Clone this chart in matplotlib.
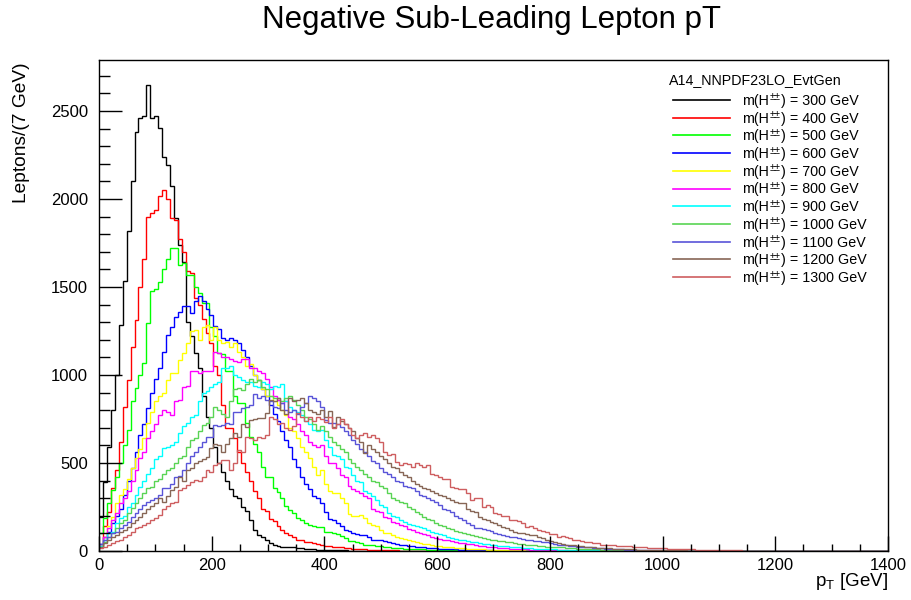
import numpy as np
import matplotlib
matplotlib.use("Agg")
import matplotlib.pyplot as plt
from matplotlib.lines import Line2D
from matplotlib.ticker import MultipleLocator

plt.rcParams['font.family'] = ['Liberation Sans', 'DejaVu Sans']
plt.rcParams['mathtext.fontset'] = 'custom'
plt.rcParams['mathtext.rm'] = 'Liberation Sans'
plt.rcParams['mathtext.it'] = 'Liberation Sans'
plt.rcParams['mathtext.bf'] = 'Liberation Sans'

# ---------------- data ----------------
masses = [300, 400, 500, 600, 700, 800, 900, 1000, 1100, 1200, 1300]
legend_header = "A14_NNPDF23LO_EvtGen"
title = "Negative Sub-Leading Lepton pT"
n_bins = 200
x_min, x_max = 0, 1400

h300 = [195, 394, 593, 801, 1000, 1284, 1534, 1818, 2102, 2382, 2462, 2470, 2650, 2462, 2470,
        2405, 2239, 2193, 2074, 1894, 1740, 1645, 1300, 1220, 1125, 1040, 880, 760, 700, 590,
        500, 450, 400, 350, 310, 300, 250, 230, 175, 120, 90, 80, 60, 45, 32, 28, 25, 25, 22,
        20, 18, 15, 12, 10, 10, 8, 7, 6, 5, 4, 4, 3, 3, 2, 2, 2, 1, 1, 1]

h400 = [30, 140, 220, 360, 460, 620, 820, 970, 1160, 1310, 1500, 1660, 1900, 1920, 1940, 2020,
        2050, 2000, 1890, 1880, 1775, 1700, 1590, 1580, 1440, 1400, 1320, 1240, 1180, 1050, 1000,
        830, 700, 700, 640, 560, 500, 450, 400, 340, 300, 240, 230, 180, 170, 140, 120, 100, 90,
        80, 65, 60, 50, 50, 45, 40, 35, 30, 28, 25, 22, 20, 18, 15, 14, 12, 10, 10, 8, 7, 6, 5,
        5, 4, 3, 3, 2, 2, 1, 1]

h500 = [100, 190, 272, 347, 422, 500, 600, 688, 850, 926, 1000, 1068, 1295, 1480, 1490, 1530,
        1600, 1660, 1722, 1722, 1625, 1635, 1570, 1570, 1500, 1465, 1410, 1410, 1270, 1220, 1125,
        1120, 1020, 1020, 880, 840, 840, 730, 650, 610, 560, 480, 420, 420, 360, 335, 300, 255,
        235, 215, 190, 175, 160, 150, 140, 135, 138, 110, 110, 105, 95, 85, 75, 55, 55, 50, 48,
        35, 35, 32, 30, 28, 25, 20, 18, 17, 15, 14, 13, 12, 11, 10, 9, 8, 7, 7, 6, 5, 5, 4, 4,
        3, 3, 2, 2, 2, 1, 1]

h600 = [40, 80, 110, 160, 200, 240, 320, 400, 470, 560, 660, 720, 810, 900, 980, 1040, 1130,
        1230, 1270, 1330, 1360, 1390, 1390, 1350, 1420, 1450, 1420, 1375, 1340, 1280, 1260, 1210,
        1200, 1210, 1200, 1180, 1140, 1100, 1050, 1000, 970, 920, 880, 830, 780, 740, 680, 630,
        590, 520, 480, 420, 380, 350, 310, 300, 270, 220, 180, 175, 160, 140, 120, 115, 100, 95,
        90, 90, 80, 65, 62, 60, 55, 50, 45, 40, 35, 35, 30, 28, 25, 22, 20, 18, 16, 15, 13, 12,
        11, 10, 9, 8, 7, 6, 6, 5, 4, 4, 3, 3, 2, 2, 2, 1, 1]

h700 = [30, 80, 140, 195, 270, 320, 350, 410, 470, 530, 580, 640, 730, 790, 850, 880, 900, 970,
        1010, 1010, 1085, 1125, 1180, 1250, 1255, 1200, 1275, 1285, 1200, 1275, 1200, 1180, 1190,
        1160, 1180, 1130, 1100, 1050, 1060, 1000, 970, 920, 880, 880, 850, 830, 800, 770, 700,
        680, 640, 590, 560, 530, 480, 430, 460, 380, 340, 330, 330, 300, 270, 210, 200, 200, 205,
        190, 160, 150, 140, 120, 100, 100, 90, 80, 75, 70, 60, 55, 50, 45, 40, 38, 35, 30, 28,
        25, 22, 20, 18, 16, 15, 13, 12, 11, 10, 9, 8, 7, 6, 6, 5, 5, 4, 4, 3, 3, 2, 2, 2, 1, 1]

h800 = [40, 80, 130, 175, 215, 270, 300, 340, 400, 460, 530, 560, 640, 680, 720, 770, 800, 790,
        770, 855, 860, 930, 940, 1020, 1020, 1010, 1020, 1025, 1025, 1130, 1125, 1100, 1100, 1090,
        1080, 1075, 1090, 1090, 1040, 1040, 1020, 1010, 980, 930, 880, 860, 840, 850, 760, 750,
        720, 680, 660, 620, 600, 590, 600, 540, 500, 500, 470, 430, 420, 370, 350, 340, 330, 310,
        300, 240, 230, 220, 195, 190, 165, 160, 145, 140, 125, 120, 110, 100, 95, 90, 80, 75, 70,
        65, 60, 55, 50, 48, 45, 40, 38, 35, 30, 28, 25, 23, 21, 19, 17, 15, 14, 12, 11, 10, 9, 8,
        7, 6, 6, 5, 5, 4, 4, 3, 3, 2, 2, 2, 1, 1, 1]

h900 = [30, 60, 100, 110, 160, 185, 200, 250, 270, 320, 365, 400, 440, 470, 520, 540, 585, 590,
        600, 620, 670, 710, 730, 760, 770, 850, 900, 910, 930, 950, 960, 1040, 1040, 1050, 1000,
        990, 970, 960, 960, 940, 930, 960, 950, 920, 940, 930, 950, 850, 820, 800, 790, 770, 740,
        720, 690, 680, 690, 630, 590, 545, 540, 520, 480, 470, 430, 400, 390, 340, 330, 310, 290,
        260, 250, 215, 200, 195, 175, 165, 155, 150, 140, 135, 130, 120, 110, 100, 95, 90, 80, 75,
        70, 65, 60, 55, 50, 50, 45, 40, 38, 35, 32, 30, 28, 26, 24, 22, 20, 18, 17, 15, 14, 13,
        12, 11, 10, 9, 8, 8, 7, 6, 6, 5, 5, 4, 4, 3, 3, 3, 2, 2, 2, 1, 1, 1]

h1000 = [25, 50, 80, 100, 130, 160, 175, 215, 245, 270, 300, 330, 360, 365, 400, 410, 440, 460,
         470, 500, 530, 540, 590, 630, 640, 680, 715, 730, 760, 820, 800, 780, 760, 850, 920, 925,
         915, 950, 980, 960, 970, 930, 920, 880, 870, 870, 850, 870, 880, 860, 830, 800, 760, 750,
         720, 690, 710, 680, 650, 620, 600, 580, 560, 520, 500, 480, 460, 440, 420, 400, 390, 370,
         360, 330, 300, 290, 280, 270, 250, 240, 220, 210, 195, 180, 175, 160, 150, 140, 130, 125,
         115, 110, 100, 95, 90, 85, 80, 75, 70, 65, 60, 55, 55, 50, 50, 45, 40, 38, 35, 35, 32, 30,
         28, 25, 25, 22, 20, 20, 18, 17, 15, 14, 12, 11, 10, 10, 9, 8, 7, 6, 6, 5, 5, 4, 4, 3, 3,
         2, 2, 2, 1, 1]

h1100 = [40, 62, 81, 100, 110, 130, 148, 167, 195, 216, 236, 260, 280, 290, 300, 320, 358, 360,
         380, 420, 425, 460, 500, 540, 560, 590, 620, 650, 650, 716, 710, 716, 730, 720, 790, 790,
         810, 820, 830, 890, 870, 880, 860, 850, 820, 810, 840, 800, 790, 800, 780, 820, 840, 880,
         870, 850, 820, 745, 730, 730, 720, 706, 680, 660, 630, 610, 580, 560, 540, 510, 500, 470,
         450, 440, 420, 400, 390, 370, 365, 360, 340, 320, 310, 300, 290, 280, 260, 240, 235, 220,
         200, 190, 175, 160, 150, 130, 130, 125, 120, 115, 100, 95, 92, 88, 82, 80, 75, 68, 62, 60,
         58, 55, 53, 50, 45, 40, 36, 34, 32, 30, 27, 25, 24, 22, 20, 18, 17, 15, 14, 12, 11, 10, 9,
         8, 8, 7, 6, 6, 5, 5, 4, 4, 3, 3, 3, 2, 2, 2, 1, 1]

h1200 = [20, 45, 62, 81, 90, 110, 120, 138, 159, 176, 195, 216, 236, 256, 272, 300, 280, 310, 347,
         365, 420, 400, 460, 470, 500, 510, 520, 536, 585, 610, 600, 564, 610, 640, 670, 650, 720,
         705, 744, 750, 755, 755, 784, 860, 850, 870, 800, 780, 870, 850, 860, 870, 840, 800, 790,
         780, 801, 760, 794, 706, 760, 740, 720, 700, 680, 640, 620, 557, 600, 580, 560, 540, 520,
         500, 480, 470, 450, 430, 420, 400, 380, 370, 358, 350, 340, 330, 320, 310, 300, 290, 280,
         270, 270, 240, 225, 220, 195, 180, 175, 165, 160, 150, 138, 130, 120, 110, 105, 100, 95,
         92, 90, 80, 74, 65, 55, 50, 45, 42, 36, 34, 32, 30, 27, 25, 22, 20, 18, 17, 16, 15, 14,
         13, 12, 11, 10, 9, 8, 8, 7, 6, 6, 5, 5, 4, 4, 4, 3, 3, 3, 2, 2, 2, 1, 1, 1]

h1300 = [15, 25, 34, 45, 55, 62, 81, 90, 110, 130, 138, 145, 159, 176, 186, 205, 236, 256, 272,
         280, 347, 360, 375, 390, 403, 400, 420, 460, 450, 490, 500, 517, 517, 460, 500, 574, 560,
         650, 640, 630, 650, 640, 660, 760, 750, 720, 730, 700, 690, 710, 784, 760, 740, 760, 740,
         760, 750, 735, 760, 700, 720, 750, 720, 700, 660, 640, 660, 670, 650, 660, 640, 620, 560,
         545, 550, 505, 490, 500, 495, 480, 500, 490, 480, 490, 440, 430, 420, 410, 410, 365, 360,
         350, 350, 330, 290, 300, 300, 250, 260, 250, 216, 210, 200, 200, 176, 176, 170, 160, 138,
         140, 130, 119, 115, 110, 95, 95, 81, 85, 78, 75, 62, 60, 55, 53, 53, 45, 45, 34, 36, 34,
         32, 30, 30, 28, 26, 25, 24, 22, 20, 19, 18, 17, 16, 15, 14, 13, 12, 11, 10, 10, 9, 8, 8,
         7, 6, 6, 5, 5, 4, 4, 3, 3, 3, 2, 2, 2, 1, 1, 1]

series = [h300, h400, h500, h600, h700, h800, h900, h1000, h1100, h1200, h1300]
colors = ['#000000', '#ff0000', '#00ff00', '#0000ff', '#ffff00', '#ff00ff', '#00ffff',
          '#59d454', '#5954d8', '#876656', '#ce5e60']

# ---------------- figure ----------------
W, H = 912, 600
fig = plt.figure(figsize=(W / 100, H / 100), dpi=100)
fig.patch.set_facecolor('white')
ax = fig.add_axes([99 / W, 49 / H, 789 / W, 491 / H])

edges = np.linspace(x_min, x_max, n_bins + 1)
for vals, col in zip(series, colors):
    counts = np.zeros(n_bins)
    counts[:len(vals)] = vals
    ax.stairs(counts, edges, color=col, lw=1.0, baseline=None)

ax.set_xlim(x_min, x_max)
ax.set_ylim(0, 2790)
ax.xaxis.set_major_locator(MultipleLocator(200))
ax.xaxis.set_minor_locator(MultipleLocator(50))
ax.yaxis.set_major_locator(MultipleLocator(500))
ax.yaxis.set_minor_locator(MultipleLocator(100))
ax.tick_params(which='both', direction='in', top=False, right=False, width=1.0, colors='black')
ax.tick_params(axis='x', which='major', length=10.8, labelsize=12, pad=5)
ax.tick_params(axis='x', which='minor', length=5.4)
ax.tick_params(axis='y', which='major', length=16.5, labelsize=12, pad=8)
ax.tick_params(axis='y', which='minor', length=8.2)
for s in ax.spines.values():
    s.set_linewidth(1.0)

fig.text(492 / W, 1 - 20 / H, title, ha='center', va='center', fontsize=22.5)
fig.text(22 / W, 1 - 62 / H, 'Leptons/(7 GeV)', rotation=90, ha='center', va='top', fontsize=13.8)
fig.text(888 / W, 1 - 581 / H, r'p$_{\mathrm{T}}$ [GeV]', ha='right', va='center', fontsize=13.5)

# legend (ROOT TLegend style, no border); superscript drawn as a chained small text
leg_fs = 10.3
fig.text(669 / W, 1 - 80 / H, legend_header, ha='left', va='center', fontsize=10.3)
for i, (m, col) in enumerate(zip(masses, colors)):
    y = 1 - (105 + 17.7 * i) / H
    fig.add_artist(Line2D([673 / W, 730 / W], [y + 5 / H, y + 5 / H], transform=fig.transFigure,
                          color=col, lw=1.2))
    t1 = fig.text(742 / W, y, 'm(H', ha='left', va='baseline', fontsize=leg_fs)
    t2 = ax.annotate('\u00b1\u00b1', xy=(1, 0), xycoords=t1, xytext=(0.3, 5.4),
                     textcoords='offset points', ha='left', va='baseline', fontsize=7,
                     annotation_clip=False)
    ax.annotate(') = %d GeV' % m, xy=(1, 0), xycoords=(t2, t1), xytext=(0.3, 0),
                textcoords='offset points', ha='left', va='bottom', fontsize=leg_fs,
                annotation_clip=False)

fig.savefig('out.png', dpi=100)
